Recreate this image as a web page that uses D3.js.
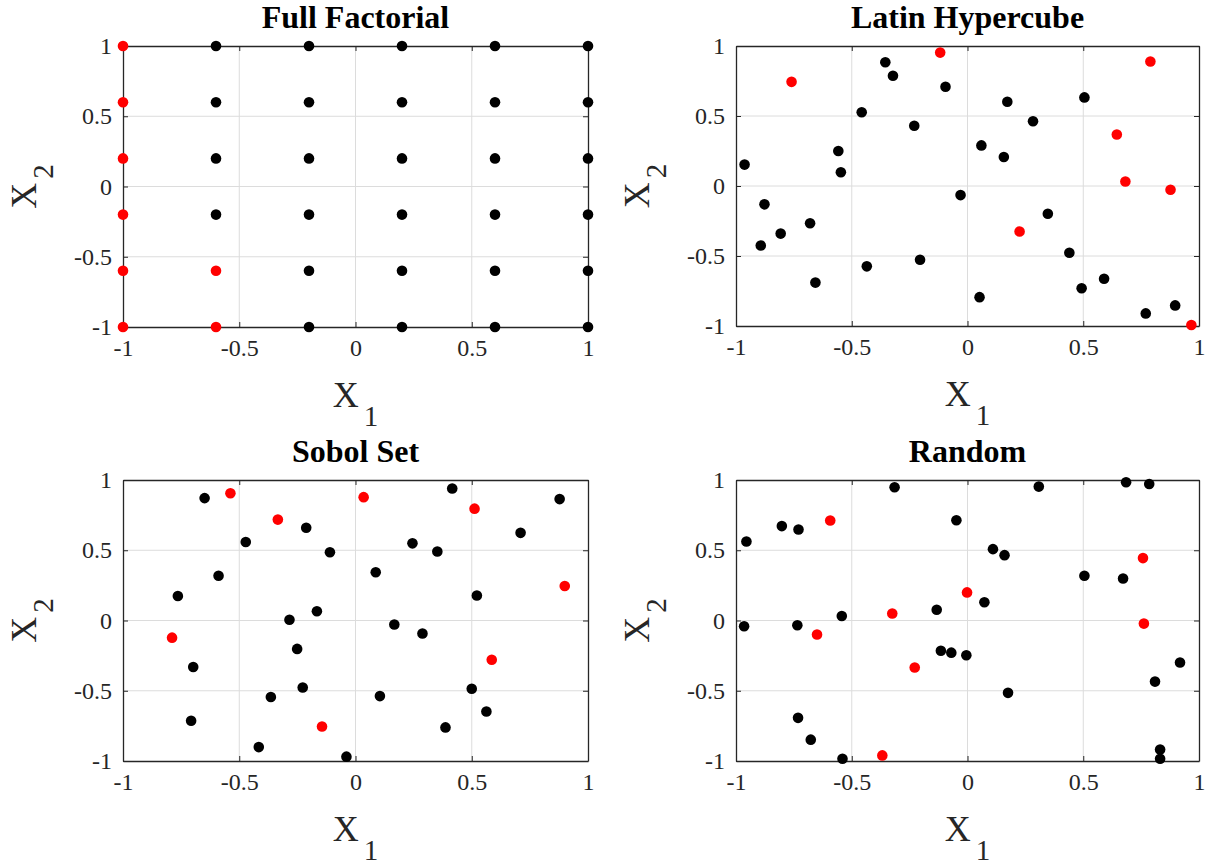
<!DOCTYPE html>
<html>
<head>
<meta charset="utf-8">
<script src="https://cdn.jsdelivr.net/npm/d3@7"></script>
<style>
  body { margin: 0; background: #fff; }
  text { font-family: "Liberation Serif", "Times New Roman", serif; fill: #262626; }
</style>
</head>
<body>
<svg id="chart" width="1207" height="867"></svg>
<script>
// ticks shared by all panels
var tickValues = [-1, -0.5, 0, 0.5, 1];
var tickLabels = ['-1', '-0.5', '0', '0.5', '1'];

// full factorial design, 6 x 6 levels
var ffBlack = [
  [-0.6, 1], [-0.2, 1], [0.2, 1], [0.6, 1], [1, 1],
  [-0.6, 0.6], [-0.2, 0.6], [0.2, 0.6], [0.6, 0.6], [1, 0.6],
  [-0.6, 0.2], [-0.2, 0.2], [0.2, 0.2], [0.6, 0.2], [1, 0.2],
  [-0.6, -0.2], [-0.2, -0.2], [0.2, -0.2], [0.6, -0.2], [1, -0.2],
  [-0.2, -0.6], [0.2, -0.6], [0.6, -0.6], [1, -0.6],
  [-0.2, -1], [0.2, -1], [0.6, -1], [1, -1]
];
var ffRed = [[-1, 1], [-1, 0.6], [-1, 0.2], [-1, -0.2], [-1, -0.6], [-1, -1], [-0.6, -0.6], [-0.6, -1]];

// latin hypercube
var lhsBlack = [
  [-0.963, 0.153], [-0.877, -0.131], [-0.893, -0.425], [-0.807, -0.340], [-0.680, -0.266],
  [-0.657, -0.690], [-0.558, 0.250], [-0.547, 0.098], [-0.457, 0.527], [-0.435, -0.574],
  [-0.355, 0.884], [-0.322, 0.787], [-0.230, 0.430], [-0.205, -0.527], [-0.095, 0.709],
  [-0.030, -0.065], [0.060, 0.290], [0.052, -0.794], [0.157, 0.207], [0.172, 0.602],
  [0.283, 0.463], [0.347, -0.198], [0.440, -0.477], [0.493, -0.730], [0.505, 0.633],
  [0.590, -0.662], [0.770, -0.910], [0.897, -0.853]
];
var lhsRed = [[-0.760, 0.744], [-0.118, 0.953], [0.225, -0.325], [0.645, 0.368],
  [0.682, 0.032], [0.790, 0.889], [0.877, -0.027], [0.967, -0.993]];

// sobol set
var sobolBlack = [
  [-0.649, 0.871], [-0.212, 0.660], [-0.472, 0.559], [-0.110, 0.486], [-0.589, 0.319],
  [-0.764, 0.174], [-0.166, 0.066], [-0.284, 0.005], [-0.251, -0.202], [-0.698, -0.331],
  [-0.227, -0.477], [-0.364, -0.545], [-0.707, -0.714], [-0.416, -0.901], [-0.039, -0.969],
  [0.416, 0.939], [0.245, 0.549], [0.352, 0.491], [0.087, 0.343], [0.167, -0.028],
  [0.288, -0.092], [0.105, -0.538], [0.522, 0.178], [0.500, -0.486], [0.563, -0.648],
  [0.387, -0.761], [0.710, 0.624], [0.878, 0.864]
];
var sobolRed = [[-0.538, 0.906], [-0.334, 0.718], [-0.789, -0.122], [-0.144, -0.754],
  [0.035, 0.878], [0.512, 0.796], [0.586, -0.279], [0.900, 0.246]];

// random
var randBlack = [
  [-0.955, 0.562], [-0.965, -0.041], [-0.802, 0.672], [-0.730, 0.648], [-0.735, -0.034],
  [-0.732, -0.693], [-0.677, -0.848], [-0.543, 0.032], [-0.540, -0.984], [-0.315, 0.948],
  [-0.133, 0.076], [-0.115, -0.215], [-0.070, -0.229], [-0.005, -0.247], [-0.048, 0.714],
  [0.073, 0.130], [0.110, 0.508], [0.160, 0.465], [0.175, -0.515], [0.308, 0.953],
  [0.505, 0.318], [0.672, 0.299], [0.685, 0.984], [0.785, 0.972], [0.810, -0.435],
  [0.918, -0.299], [0.832, -0.918], [0.832, -0.984]
];
var randRed = [[-0.593, 0.712], [-0.650, -0.100], [-0.368, -0.960], [-0.325, 0.050],
  [-0.228, -0.334], [-0.002, 0.200], [0.758, 0.444], [0.762, -0.022]];

var titles = ['Full Factorial', 'Latin Hypercube', 'Sobol Set', 'Random'];
var blacks = [ffBlack, lhsBlack, sobolBlack, randBlack];
var reds = [ffRed, lhsRed, sobolRed, randRed];

var panels = [
  {left: 123, top: 46, w: 465, h: 281},
  {left: 736, top: 46, w: 463, h: 280},
  {left: 123, top: 480, w: 465, h: 281},
  {left: 736, top: 480, w: 463, h: 281}
];

var svg = d3.select('#chart');
var axisColor = '#262626';

panels.forEach(function(p, i) {
  var g = svg.append('g').attr('transform', 'translate(' + p.left + ',' + p.top + ')');
  var x = d3.scaleLinear().domain([-1, 1]).range([0, p.w]);
  var y = d3.scaleLinear().domain([-1, 1]).range([p.h, 0]);

  // grid
  g.append('g').selectAll('line.gx')
    .data(tickValues.slice(1, -1)).enter().append('line')
    .attr('x1', function(d) { return x(d); }).attr('x2', function(d) { return x(d); })
    .attr('y1', 0).attr('y2', p.h)
    .attr('stroke', '#dcdcdc').attr('stroke-width', 1);
  g.append('g').selectAll('line.gy')
    .data(tickValues.slice(1, -1)).enter().append('line')
    .attr('y1', function(d) { return y(d); }).attr('y2', function(d) { return y(d); })
    .attr('x1', 0).attr('x2', p.w)
    .attr('stroke', '#dcdcdc').attr('stroke-width', 1);

  // axes with inward ticks on all four sides
  var fmt = function(d) { return tickLabels[tickValues.indexOf(d)]; };
  var bottom = g.append('g').attr('transform', 'translate(0,' + p.h + ')')
    .call(d3.axisBottom(x).tickValues(tickValues).tickFormat(fmt).tickSizeInner(-5).tickSizeOuter(0).tickPadding(12));
  var left = g.append('g')
    .call(d3.axisLeft(y).tickValues(tickValues).tickFormat(fmt).tickSizeInner(-5).tickSizeOuter(0).tickPadding(11));
  var top = g.append('g')
    .call(d3.axisTop(x).tickValues(tickValues).tickFormat('').tickSizeInner(-5).tickSizeOuter(0));
  var right = g.append('g').attr('transform', 'translate(' + p.w + ',0)')
    .call(d3.axisRight(y).tickValues(tickValues).tickFormat('').tickSizeInner(-5).tickSizeOuter(0));
  [bottom, left, top, right].forEach(function(a) {
    a.attr('font-size', null).attr('font-family', null);
    a.selectAll('path').attr('stroke', axisColor).attr('stroke-width', 1.3);
    a.selectAll('line').attr('stroke', axisColor).attr('stroke-width', 1);
    a.selectAll('text')
      .style('font-size', '24px')
      .style('font-family', '"Liberation Serif", "Times New Roman", serif')
      .style('fill', axisColor);
  });
  bottom.selectAll('text').attr('dy', '0.71em');

  // points
  g.append('g').selectAll('circle.b').data(blacks[i]).enter().append('circle')
    .attr('cx', function(d) { return x(d[0]); })
    .attr('cy', function(d) { return y(d[1]); })
    .attr('r', 5.3).attr('fill', '#000');
  g.append('g').selectAll('circle.r').data(reds[i]).enter().append('circle')
    .attr('cx', function(d) { return x(d[0]); })
    .attr('cy', function(d) { return y(d[1]); })
    .attr('r', 5.3).attr('fill', '#ff0000');

  // title
  g.append('text').attr('x', p.w / 2).attr('y', -18)
    .attr('text-anchor', 'middle').attr('font-size', 32).attr('font-weight', 'bold')
    .style('fill', '#000').text(titles[i]);

  // x label X_1
  var xl = g.append('text').attr('x', p.w / 2).attr('y', p.h + 80)
    .attr('text-anchor', 'middle').attr('font-size', 36);
  xl.append('tspan').text('X');
  xl.append('tspan').attr('font-size', 29).attr('dx', 5).attr('dy', 19).text('1');

  // y label X_2
  var yl = g.append('text')
    .attr('transform', 'translate(' + (-87) + ',' + (p.h / 2) + ') rotate(-90)')
    .attr('text-anchor', 'middle').attr('font-size', 36);
  yl.append('tspan').text('X');
  yl.append('tspan').attr('font-size', 29).attr('dx', 4).attr('dy', 17).text('2');
});
</script>
</body>
</html>
